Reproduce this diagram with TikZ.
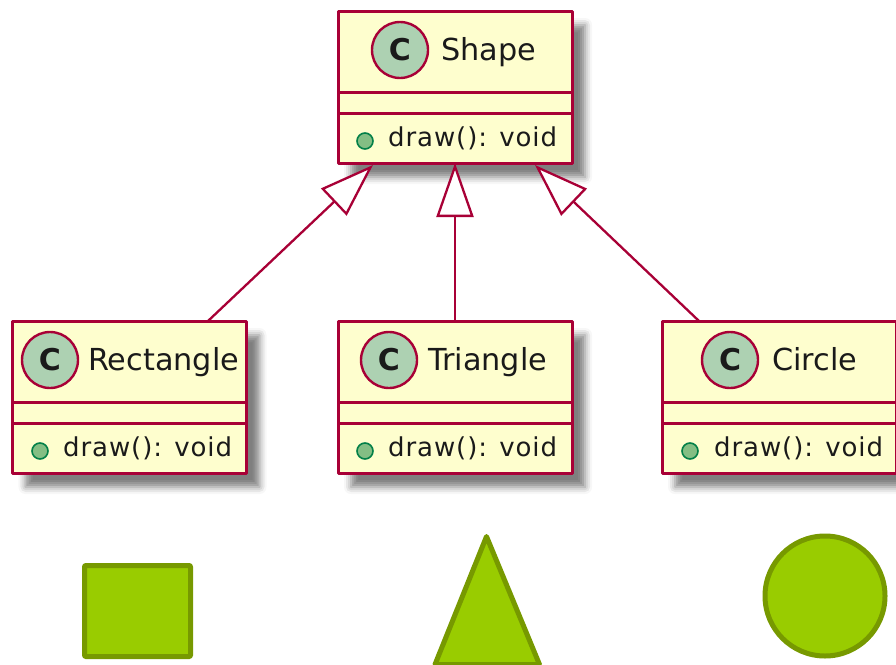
\documentclass[tikz,border=0pt]{standalone}
\usepackage{fontspec}
\setmainfont{DejaVu Sans}
\newfontfamily\methodfont[LetterSpace=3.5]{DejaVu Sans}
\usetikzlibrary{arrows.meta, shadows.blur}
\definecolor{umlborder}{HTML}{A80036}
\definecolor{umlfill}{HTML}{FEFECE}
\definecolor{umlspot}{HTML}{ADD1B2}
\definecolor{umldot}{HTML}{84BE84}
\definecolor{umldotborder}{HTML}{038048}
\definecolor{umltext}{HTML}{1A1A1A}
\definecolor{figfill}{HTML}{99CC00}
\definecolor{figborder}{HTML}{779900}
\tikzset{
    classbox/.style={draw=umlborder, fill=umlfill, line width=3pt, line join=round, inner sep=0pt, outer sep=0pt,
        minimum width=234pt, minimum height=152pt,
        blur shadow={shadow xshift=13pt, shadow yshift=-14pt, shadow blur radius=7pt, shadow opacity=50}},
    classline/.style={draw=umlborder, line width=3pt},
    spot/.style={circle, draw=umlborder, fill=umlspot, line width=2.4pt, minimum size=56pt, inner sep=0pt,
        text=umltext, font=\fontsize{30}{30}\selectfont\bfseries},
    title/.style={anchor=base west, inner sep=0pt, text=umltext, font=\fontsize{30.3}{34}\selectfont},
    method/.style={anchor=base west, inner sep=0pt, text=umltext, font=\methodfont\fontsize{26}{30}\selectfont},
    methoddot/.style={circle, draw=umldotborder, fill=umldot, line width=1.6pt, minimum size=16pt, inner sep=0pt},
    extends/.style={draw=umlborder, line width=2.3pt, -{Triangle[open, fill=white, length=54pt, width=37pt]}},
    figure/.style={draw=figborder, fill=figfill, line width=5pt, line join=round, inner sep=0pt, outer sep=0pt}
}
\begin{document}
\begin{tikzpicture}[x=1pt,y=-1pt]
    \useasboundingbox (0,0) rectangle (896,664);

    % parent class
    \node[classbox] (shape) at (455,87) {};
    \draw[classline] (shape.west |- 0,92) -- (shape.east |- 0,92);
    \draw[classline] (shape.west |- 0,113) -- (shape.east |- 0,113);
    \node[spot] (shapespot) at (400,50) {C};
    \node[title] (shapetitle) at (441,60) {Shape};
    \node[methoddot] (shapedot) at (365,141) {};
    \node[method] (shapemethod) at (388,146) {draw(): void};

    % subclasses
    \node[classbox] (rectangle) at (129.5,397) {};
    \draw[classline] (rectangle.west |- 0,402) -- (rectangle.east |- 0,402);
    \draw[classline] (rectangle.west |- 0,423) -- (rectangle.east |- 0,423);
    \node[spot] (rectanglespot) at (50,360) {C};
    \node[title] (rectangletitle) at (88,370) {Rectangle};
    \node[methoddot] (rectangledot) at (40,451) {};
    \node[method] (rectanglemethod) at (63,456) {draw(): void};

    \node[classbox] (triangle) at (455,397) {};
    \draw[classline] (triangle.west |- 0,402) -- (triangle.east |- 0,402);
    \draw[classline] (triangle.west |- 0,423) -- (triangle.east |- 0,423);
    \node[spot] (trianglespot) at (389,360) {C};
    \node[title] (triangletitle) at (428,370) {Triangle};
    \node[methoddot] (triangledot) at (365,451) {};
    \node[method] (trianglemethod) at (388,456) {draw(): void};

    \node[classbox] (circle) at (779,397) {};
    \draw[classline] (circle.west |- 0,402) -- (circle.east |- 0,402);
    \draw[classline] (circle.west |- 0,423) -- (circle.east |- 0,423);
    \node[spot] (circlespot) at (730,360) {C};
    \node[title] (circletitle) at (772,370) {Circle};
    \node[methoddot] (circledot) at (690,451) {};
    \node[method] (circlemethod) at (714,456) {draw(): void};

    % inheritance arrows
    \coordinate (shapeleft) at (373,165);
    \coordinate (shaperight) at (535,165);
    \coordinate (rectangletop) at (208,321);
    \coordinate (circletop) at (699,321);
    \draw[extends] (rectangletop) -- (shapeleft);
    \draw[extends] (triangle.north) -- (shape.south);
    \draw[extends] (circletop) -- (shaperight);

    % the figures
    \draw[figure, rounded corners=1pt] (84.5,565.5) rectangle (190.5,656.5);
    \draw[figure] (486.5,536.5) -- (539.5,664.5) -- (435,664.5) -- cycle;
    \draw[figure] (825,596) circle (60);
\end{tikzpicture}
\end{document}
